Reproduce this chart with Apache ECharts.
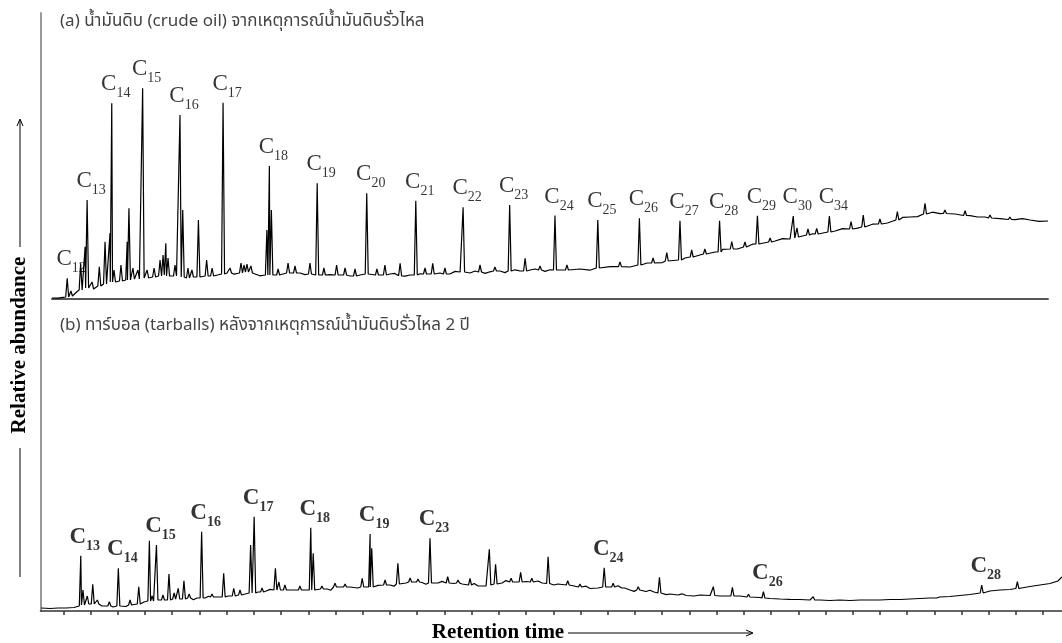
<!DOCTYPE html>
<html>
<head>
<meta charset="utf-8">
<script src="https://cdn.jsdelivr.net/npm/echarts@6/dist/echarts.min.js"></script>
<style>html,body{margin:0;padding:0;background:#fff;}#chart{width:1062px;height:643px;}</style>
</head>
<body>
<div id="chart"></div>
<script>
// ---------- DATA ----------
const titleA = '(a) น้ำมันดิบ (crude oil) จากเหตุการณ์น้ำมันดิบรั่วไหล';
const titleB = '(b) ทาร์บอล (tarballs) หลังจากเหตุการณ์น้ำมันดิบรั่วไหล 2 ปี';
const yTitle = 'Relative abundance';
const xTitle = 'Retention time';

// (a) crude oil: baseline [time, abundance]
const topBaseline = [[4.00,0.5],[4.24,0.4],[4.44,0.8],[4.56,1.0],[4.72,1.6],[4.88,2.4],[5.00,3.6],[5.12,4.5],[5.24,5.6],[5.53,4.4],[5.73,5.6],[5.93,6.4],[6.13,7.6],[6.33,8.4],[6.61,8.6],[6.85,9.2],[7.13,9.4],[7.37,10.2],[7.61,10.4],[7.94,10.6],[8.22,11.2],[8.54,12],[8.82,11.4],[9.14,11],[9.42,10.4],[9.70,11.2],[9.94,11],[10.22,11.6],[10.51,11.4],[10.75,12.6],[11.03,13],[11.31,12.4],[11.55,13.2],[11.83,13.6],[12.11,12.4],[12.35,11.6],[12.55,12.2],[12.88,12],[13.16,12.6],[13.44,13],[13.72,12.8],[13.96,13],[14.16,12.2],[14.36,12.5],[14.56,13.4],[14.76,12],[14.96,11.6],[15.16,12.2],[15.36,13.2],[15.57,12.6],[15.97,11.5],[16.17,12.8],[16.37,12],[16.57,11.4],[16.77,12.6],[16.97,13],[17.17,12],[17.37,11.2],[17.57,12.5],[17.77,12.8],[17.98,11.6],[18.18,11.4],[18.38,12],[18.58,12.8],[18.78,12.6],[19.18,13],[19.38,13.6],[19.58,13],[19.78,12.2],[19.98,12.5],[20.19,13.8],[20.39,13.5],[20.59,12.6],[20.79,13],[20.99,14],[21.19,13.5],[21.39,12.8],[21.59,13.6],[21.99,14],[22.19,13.2],[22.39,14],[22.6,14.6],[22.80,14],[23.20,14.5],[23.4,15],[23.60,14.4],[23.8,13.8],[24.00,14.6],[24.40,14.5],[24.80,15.4],[25.20,15],[25.6,14.4],[26.01,15.5],[26.41,16.2],[26.81,16.2],[27.21,16],[27.61,17],[27.91,18],[28.22,18],[28.52,18.2],[28.82,19],[29.12,20],[29.42,20.5],[29.72,20.8],[30.02,22],[30.32,22],[30.63,23.5],[30.93,24.8],[31.23,25],[31.53,25],[31.83,26.2],[32.13,27.4],[32.43,27.5],[32.73,27.8],[33.04,29],[33.34,30.2],[33.64,30],[33.94,30.4],[34.24,31.5],[34.54,32.6],[34.84,32.7],[35.14,32.8],[35.45,34],[35.75,35.2],[36.05,35],[36.35,35.4],[36.65,36.2],[36.95,37.4],[37.25,37.5],[37.55,38],[37.86,39.5],[38.16,40.8],[38.46,41],[38.76,41.2],[39.06,42.5],[39.36,43.4],[39.66,42.7],[39.96,42],[40.27,42.5],[40.57,43],[40.87,41.7],[41.17,41],[41.47,41],[41.77,41.4],[42.07,40.2],[42.37,39.6],[42.68,39.7],[42.98,40.2],[43.28,39.5],[43.64,38.8],[44.00,39]];
// n-alkane peaks [time, base, apex]
const topCarbonNames = ['12','13','14','15','16','17','18','19','20','21','22','23','24','25','26','27','28','29','30','34'];
const topCarbonPeaks = [[4.61,1,10.35],[5.41,5.5,49.5],[6.40,8.5,97.85],[7.64,10.5,105.35],[9.14,11,92],[10.87,12.5,98.15],[12.73,12,66.5],[14.65,12,57.85],[16.64,12.5,52.85],[18.61,12,49.15],[20.51,13.5,45.85],[22.38,14,47],[24.20,14.5,41.75],[25.92,15.5,39.5],[27.59,17,40.35],[29.22,19.5,39.15],[30.81,23.5,39.15],[32.33,27.5,41.65],[33.77,30.5,41.5],[35.22,33.5,41.5]];
const topMinorPeaks = [[4.76,1.5,4],[5.15,4.5,17.85],[5.33,5.5,26.15],[5.61,5,8.5],[5.90,6.5,16.15],[6.13,7.5,28.65],[6.33,8.5,33],[6.49,8.5,14.5],[6.77,9,17],[7.02,9.5,28.65],[7.09,9.5,45.35],[7.25,10,15.5],[7.45,10,14.5],[7.82,10.5,14.5],[8.10,11,15.5],[8.34,11.5,19.5],[8.46,11.5,22],[8.57,12,27.85],[8.66,11.5,20.5],[8.94,11.5,17],[9.25,11,44.5],[9.46,10.5,15.5],[9.62,11,14.5],[9.88,11,39.5],[10.21,11.5,19.5],[10.43,11.5,15.5],[11.15,13,15.5],[11.59,13,18],[11.71,13,17],[11.83,13.5,17.5],[11.99,13,16.5],[12.63,12,34.5],[12.81,12,44.5],[13.08,12,15],[13.48,13,18],[13.76,13,16.5],[14.36,12.5,18],[14.92,12,15.5],[15.43,12,17],[15.77,12,15.5],[16.17,11.5,15],[17.05,12,15],[17.37,12,17],[17.98,11.6,17.85],[18.98,12.5,15.5],[19.29,12.5,17.85],[19.78,12.5,15.5],[21.19,13.5,17],[21.79,14,16],[23.00,14,20.35],[23.60,14.5,16.5],[24.68,14.5,17],[26.81,16.2,18.5],[28.14,18,20.5],[28.69,19,23.15],[29.69,21,24.5],[30.22,22.5,25],[31.30,25,28.65],[31.83,26,28.5],[32.84,28.5,30.5],[33.92,31,35.5],[34.36,32,35],[34.71,32.5,35.35],[36.09,35,38.65],[36.58,36,42],[37.25,37.5,40],[37.95,39.5,43.65],[39.06,42.5,47.85],[39.86,42.75,44.5],[40.67,41.75,44.15],[41.67,40.5,42],[42.47,39.75,41]];

// (b) tarballs
const bottomTickTimes = [5,6,7,8,9,10,11,12,13,14,15,16,17,18,19,20,21,22,23,24,25,26,27,28,29,30,31,32,33,34,35,36,37,38,39,40,41];
const bottomBaseline = [[4.18,1.5],[4.51,1.25],[4.81,1.5],[5.10,1.5],[5.39,1.75],[5.54,2.5],[5.76,3.5],[5.98,3],[6.20,3.5],[6.42,2.5],[6.64,2.5],[6.83,2],[7.08,2.5],[7.30,2.25],[7.52,3],[7.74,3.5],[7.96,4.5],[8.19,5],[8.30,4.4],[8.41,5.5],[8.53,6.2],[8.66,5.5],[8.79,4.8],[8.92,5.5],[9.18,6],[9.30,6.8],[9.43,6],[9.65,6.25],[9.78,5.6],[9.91,6.5],[10.21,6.5],[10.33,7.4],[10.46,7],[10.76,7],[10.9,6.4],[11.05,7.5],[11.34,8],[11.47,8.8],[11.60,8.5],[11.86,9],[12.0,8.4],[12.15,9.5],[12.45,10],[12.6,10.8],[12.74,10.5],[13.03,10.25],[13.18,11.2],[13.33,10.5],[13.62,10.25],[13.75,9.6],[13.88,10.5],[14.14,10.5],[14.28,11.4],[14.43,10.75],[14.69,11],[14.83,10.4],[14.98,12],[15.27,12],[15.4,12.8],[15.53,12],[15.82,11.5],[15.97,11],[16.12,12],[16.41,12],[16.56,12.8],[16.71,12.5],[17.00,13],[17.15,12.4],[17.30,13.5],[17.59,14],[17.73,14.8],[17.88,14.5],[18.18,14.25],[18.32,13.4],[18.47,14],[18.77,14],[18.91,14.8],[19.06,14],[19.35,13.75],[19.5,13],[19.65,13.5],[19.94,13],[20.09,13.8],[20.24,12.5],[20.53,12.5],[20.67,12],[20.82,13.5],[21.12,14],[21.26,15.2],[21.41,14.5],[21.70,14.5],[21.85,13.8],[22.00,14.75],[22.29,14.5],[22.44,15],[22.59,14],[22.88,13.75],[23.02,13],[23.17,13.5],[23.47,13],[23.6,13.6],[23.76,12.5],[24.06,11.75],[24.2,12.4],[24.35,11.25],[24.64,11.5],[24.94,12],[25.23,12],[25.38,12.6],[25.53,11.25],[25.82,10.5],[25.97,9.8],[26.11,10.25],[26.41,9.75],[26.55,10.4],[26.70,9.5],[27.00,9],[27.15,8.2],[27.29,8.5],[27.58,8],[27.73,8.6],[27.88,7.75],[28.17,7.5],[28.39,8],[28.76,7.75],[29.12,7.5],[29.49,7.5],[29.86,7.5],[30.23,7.25],[30.59,6.75],[30.96,6.25],[31.33,6],[31.69,5.85],[32.06,5.75],[32.43,5.5],[32.80,5.5],[33.16,5.25],[33.53,5.5],[33.90,5.25],[34.27,5.5],[34.63,5.5],[35.00,5.5],[35.37,5.75],[35.74,5.75],[36.10,6],[36.47,6.25],[36.84,6.5],[37.20,7],[37.57,7.25],[37.94,7.75],[38.31,8.25],[38.67,9],[39.04,10],[39.41,10.5],[39.78,10.75],[40.14,11.5],[40.51,12.25],[40.88,13],[41.25,13.75],[41.54,15],[41.69,17]];
const bottomCarbonNames = ['13','14','15','16','17','18','19','23','24','26','28'];
const bottomCarbonPeaks = [[5.64,2.5,27.65],[7.02,2.5,21.35],[8.42,5.5,33],[10.08,6.5,39.65],[12.01,9,47.15],[14.09,10.5,41.65],[16.27,12,38.5],[18.47,14,36.35],[24.87,12,21.65],[30.72,6.5,9.65],[38.74,9,13]];
const bottomMinorPeaks = [[5.72,3,10.5],[5.88,3.5,7.5],[6.08,3.5,13.35],[6.25,3.5,5.5],[6.69,2.5,4.65],[7.45,3,5.5],[7.77,3.5,12.15],[8.16,5,35.15],[8.26,5,7.5],[8.66,5.5,8],[8.88,5.5,18.5],[9.07,6,9],[9.22,6,11.35],[9.43,6,15.15],[9.62,6.5,8.5],[10.46,7,8.5],[10.89,7,18.85],[11.26,7.5,11.35],[11.49,8,10.5],[11.88,9,33],[12.30,9.5,11.5],[12.79,10.5,21.35],[12.92,10.5,14.5],[13.14,10.5,13],[13.69,10.5,12.5],[14.18,10.5,28.85],[14.50,11,12.5],[14.98,12,13.85],[15.35,12,13.5],[15.98,12,16.35],[16.33,12,31.35],[16.82,13,15.5],[17.29,13.5,23.85],[17.74,14.5,16.5],[18.03,14.5,16],[19.12,14,17.15],[19.50,14,15.5],[19.94,13,16.35],[20.65,13,30.85],[20.88,13.5,23.35],[21.45,14.5,16.35],[21.80,14.5,19.35],[22.21,14.5,16.35],[22.81,13.75,27.15],[23.53,13,15.15],[23.98,12,13.5],[25.20,12,13.85],[25.57,11.5,12.5],[26.12,10.5,12.15],[26.90,9,16.85],[28.88,7.75,12.15],[29.58,7.5,11.85],[30.17,7,8.35],[32.55,5.5,7.15],[34.63,5.5,6.5],[37.02,6.5,7.5],[40.05,11.25,14.65]];

// ---------- BUILD ----------
function buildTrace(base, peaks, w) {
  const pts = base.filter(p => !peaks.some(q => Math.abs(q[0] - p[0]) < w * 2)).map(p => [p[0], p[1]]);
  peaks.forEach(q => { pts.push([q[0] - w, q[1]], [q[0], q[2]], [q[0] + w, q[1]]); });
  pts.sort((a, b) => a[0] - b[0]);
  return pts;
}
const topTrace = buildTrace(topBaseline, topCarbonPeaks.concat(topMinorPeaks), 0.06);
const bottomTrace = buildTrace(bottomBaseline, bottomCarbonPeaks.concat(bottomMinorPeaks), 0.055);
const topLabels = topCarbonPeaks.map((p, i) => ({ value: [p[0], p[2]], name: topCarbonNames[i] }));
const bottomLabels = bottomCarbonPeaks.map((p, i) => ({ value: [p[0], p[2]], name: bottomCarbonNames[i] }));

const serif = '"Liberation Serif", "Times New Roman", serif';
const thai = '"Noto Sans Thai", "Noto Sans Thai Looped", "Noto Sans", "DejaVu Sans", sans-serif';
function labelCfg(weight) {
  return {
    show: true, position: 'top', distance: 2, offset: [4, 0],
    formatter: p => '{c|C}{s|' + p.name + '}',
    rich: {
      c: { fontFamily: serif, fontSize: 23, fontWeight: weight, color: '#000', verticalAlign: 'bottom', padding: [0, 0, 5, 0] },
      s: { fontFamily: serif, fontSize: 14, fontWeight: weight, color: '#000', verticalAlign: 'bottom' }
    }
  };
}

const chart = echarts.init(document.getElementById('chart'), null, { renderer: 'canvas' });
chart.setOption({
  animation: false,
  backgroundColor: '#fff',
  grid: [
    { left: 52, top: 79, width: 996, height: 220 },
    { left: 40.5, top: 13, width: 1021.5, height: 598 }
  ],
  xAxis: [
    { gridIndex: 0, type: 'value', min: 4, max: 44,
      axisLine: { show: true, onZero: false, lineStyle: { color: '#555', width: 2 } },
      axisTick: { show: false }, axisLabel: { show: false }, splitLine: { show: false } },
    { gridIndex: 1, type: 'value', min: 4.16, max: 41.69,
      axisLine: { show: true, onZero: false, lineStyle: { color: '#333', width: 1.5 } },
      axisTick: { show: true, customValues: bottomTickTimes, length: 4, lineStyle: { color: '#333', width: 1.5 } },
      axisLabel: { show: false }, splitLine: { show: false } }
  ],
  yAxis: [
    { gridIndex: 0, type: 'value', min: 0, max: 110, show: false },
    { gridIndex: 1, type: 'value', min: 0, max: 299,
      axisLine: { show: true, onZero: false, lineStyle: { color: '#999', width: 2 } },
      axisTick: { show: false }, axisLabel: { show: false }, splitLine: { show: false } }
  ],
  series: [
    { type: 'line', xAxisIndex: 0, yAxisIndex: 0, data: topTrace, symbol: 'none', silent: true,
      lineStyle: { color: '#000', width: 1.2 } },
    { type: 'scatter', xAxisIndex: 0, yAxisIndex: 0, data: topLabels, symbolSize: 1, silent: true,
      itemStyle: { color: 'rgba(0,0,0,0)' }, label: labelCfg('normal') },
    { type: 'line', xAxisIndex: 1, yAxisIndex: 1, data: bottomTrace, symbol: 'none', silent: true,
      lineStyle: { color: '#000', width: 1.2 } },
    { type: 'scatter', xAxisIndex: 1, yAxisIndex: 1, data: bottomLabels, symbolSize: 1, silent: true,
      itemStyle: { color: 'rgba(0,0,0,0)' }, label: labelCfg('bold') }
  ],
  graphic: [
    { type: 'text', x: 60, y: 23, silent: true,
      style: { text: titleA, font: '17px ' + thai, fill: '#444', textVerticalAlign: 'middle' } },
    { type: 'text', x: 60, y: 327, silent: true,
      style: { text: titleB, font: '17px ' + thai, fill: '#444', textVerticalAlign: 'middle' } },
    { type: 'text', x: 20, y: 345, rotation: Math.PI / 2, silent: true,
      style: { text: yTitle, font: 'bold 21px ' + serif, fill: '#000', textAlign: 'center', textVerticalAlign: 'middle' } },
    { type: 'line', silent: true, shape: { x1: 20, y1: 448, x2: 20, y2: 577 }, style: { stroke: '#000', lineWidth: 1 } },
    { type: 'line', silent: true, shape: { x1: 20, y1: 247, x2: 20, y2: 120 }, style: { stroke: '#000', lineWidth: 1 } },
    { type: 'polyline', silent: true, shape: { points: [[17, 126], [20, 119], [23, 126]] }, style: { stroke: '#000', lineWidth: 1, fill: null } },
    { type: 'text', x: 498, y: 633, silent: true,
      style: { text: xTitle, font: 'bold 21px ' + serif, fill: '#000', textAlign: 'center', textVerticalAlign: 'middle' } },
    { type: 'line', silent: true, shape: { x1: 568, y1: 633, x2: 752, y2: 633 }, style: { stroke: '#000', lineWidth: 1 } },
    { type: 'polyline', silent: true, shape: { points: [[746, 630], [753, 633], [746, 636]] }, style: { stroke: '#000', lineWidth: 1, fill: null } }
  ]
});
</script>
</body>
</html>
